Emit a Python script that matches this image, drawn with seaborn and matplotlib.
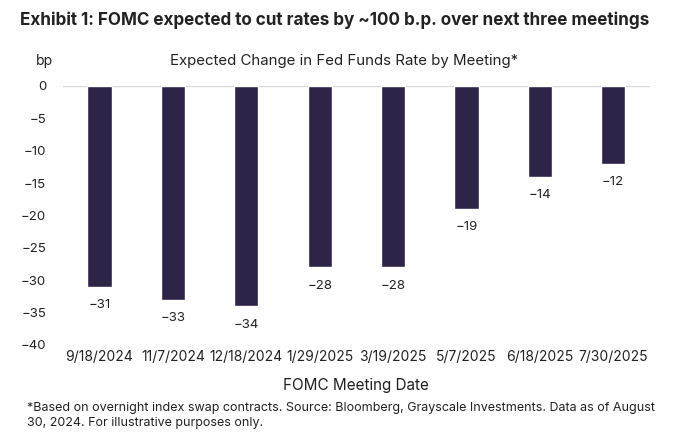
import pandas as pd
import numpy as np
import matplotlib.pyplot as plt
import seaborn as sns

meetings = ["9/18/2024", "11/7/2024", "12/18/2024", "1/29/2025",
            "3/19/2025", "5/7/2025", "6/18/2025", "7/30/2025"]
change_bp = [-31, -33, -34, -28, -28, -19, -14, -12]
bar_labels = ["-31", "-33", "-34", "-28", "-28", "-19", "-14", "-12"]
yticks = [0, -5, -10, -15, -20, -25, -30, -35, -40]

df = pd.DataFrame({"meeting": meetings, "change": change_bp})

sns.set_style("white")
plt.rcParams["font.family"] = ["Inter", "DejaVu Sans"]
txt = "#222222"

fig = plt.figure(figsize=(6.82, 4.45), dpi=100)
ax = fig.add_axes([0.092, 0.225, 0.861, 0.582])

sns.barplot(data=df, x="meeting", y="change", color="#2e2448",
            width=0.33, saturation=1, ax=ax)

ax.set_ylim(-40, 0)
ax.set_yticks(yticks)
ax.set_yticklabels([str(t).replace("-", "\u2212") for t in yticks], fontsize=9.5, color=txt)
ax.tick_params(axis="x", labelsize=10, colors=txt, length=0, pad=4)
ax.tick_params(axis="y", length=0, pad=12)
ax.set_xlabel("FOMC Meeting Date", fontsize=11, color=txt, labelpad=10)
ax.set_ylabel("")
for s in ["top", "right", "bottom", "left"]:
    ax.spines[s].set_visible(False)
ax.axhline(0, color="#d9d9d9", lw=1, zorder=0)

for i, (v, lab) in enumerate(zip(change_bp, bar_labels)):
    ax.annotate(lab.replace("-", "\u2212"), (i, v), xytext=(0, -9), textcoords="offset points",
                ha="center", va="top", fontsize=9.5, color=txt)

fig.text(0.03, 0.955, "Exhibit 1: FOMC expected to cut rates by ~100 b.p. over next three meetings",
         fontsize=12.3, fontweight="bold", color=txt, va="center")
fig.text(0.053, 0.862, "bp", fontsize=10, color=txt, va="center")
fig.text(0.505, 0.862, "Expected Change in Fed Funds Rate by Meeting*", fontsize=10.8,
         color=txt, va="center", ha="center")
fig.text(0.04, 0.067, "*Based on overnight index swap contracts. Source: Bloomberg, Grayscale Investments. Data as of August\n30, 2024. For illustrative purposes only.",
         fontsize=9, color=txt, va="center", linespacing=1.3)

fig.savefig("out.png", dpi=100)
